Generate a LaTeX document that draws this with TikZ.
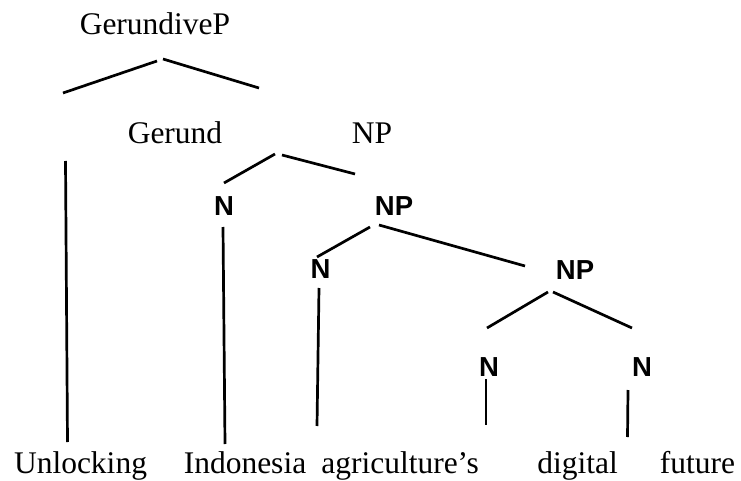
\documentclass[tikz,border=0pt]{standalone}
\usepackage{fontspec}
\setmainfont{Liberation Serif}
\newfontfamily\labfont{Liberation Sans}
\begin{document}
\begin{tikzpicture}[x=1pt,y=-1pt,
  cat/.style={anchor=base,inner sep=0pt,font=\fontsize{31.5}{36}\selectfont},
  word/.style={anchor=base,inner sep=0pt,font=\fontsize{31.5}{36}\selectfont},
  bcat/.style={anchor=base,inner sep=0pt,font=\labfont\bfseries\fontsize{27.5}{32}\selectfont},
  branch/.style={line width=2.7pt}]
\useasboundingbox (0,0) rectangle (741,481);
% category labels
\node[cat] (gp) at (155,35) {GerundiveP};
\node[cat] (ger) at (175,144) {Gerund};
\node[cat] (np1) at (372,144) {NP};
\node[bcat] (n1) at (224,215) {N};
\node[bcat] (np2) at (394,215) {NP};
\node[bcat] (n2) at (320.5,278) {N};
\node[bcat] (np3) at (575,279) {NP};
\node[bcat] (n3) at (489,376) {N};
\node[bcat] (n4) at (642,376) {N};
% words
\node[word] (w1) at (80.5,473) {Unlocking};
\node[word] (w2) at (245,473) {Indonesia};
\node[word] (w3) at (400,473) {agriculture’s};
\node[word] (w4) at (577.5,473) {digital};
\node[word] (w5) at (697.5,473) {future};
% branch end points
\coordinate (a1) at (63,93);   \coordinate (a2) at (157,61);
\coordinate (b1) at (163,59);  \coordinate (b2) at (259,88);
\coordinate (c1) at (224,183); \coordinate (c2) at (275,154);
\coordinate (d1) at (282,155); \coordinate (d2) at (355,174);
\coordinate (e1) at (317,257); \coordinate (e2) at (370,227);
\coordinate (f1) at (379,225); \coordinate (f2) at (525,266);
\coordinate (g1) at (487,328); \coordinate (g2) at (548,292);
\coordinate (h1) at (553,292); \coordinate (h2) at (632,328);
\coordinate (v1t) at (65.5,161); \coordinate (v1b) at (67.5,442);
\coordinate (v2t) at (223,227);  \coordinate (v2b) at (225,444);
\coordinate (v3t) at (319,288);  \coordinate (v3b) at (317,426);
\coordinate (v4t) at (486,379);  \coordinate (v4b) at (486,425);
\coordinate (v5t) at (628,390);  \coordinate (v5b) at (627.5,437);
\draw[branch] (a1) -- (a2);
\draw[branch] (b1) -- (b2);
\draw[branch] (c1) -- (c2);
\draw[branch] (d1) -- (d2);
\draw[branch] (e1) -- (e2);
\draw[branch] (f1) -- (f2);
\draw[branch] (g1) -- (g2);
\draw[branch] (h1) -- (h2);
\draw[branch] (v1t) -- (v1b);
\draw[branch] (v2t) -- (v2b);
\draw[branch] (v3t) -- (v3b);
\draw[branch] (v4t) -- (v4b);
\draw[branch] (v5t) -- (v5b);
\end{tikzpicture}
\end{document}
